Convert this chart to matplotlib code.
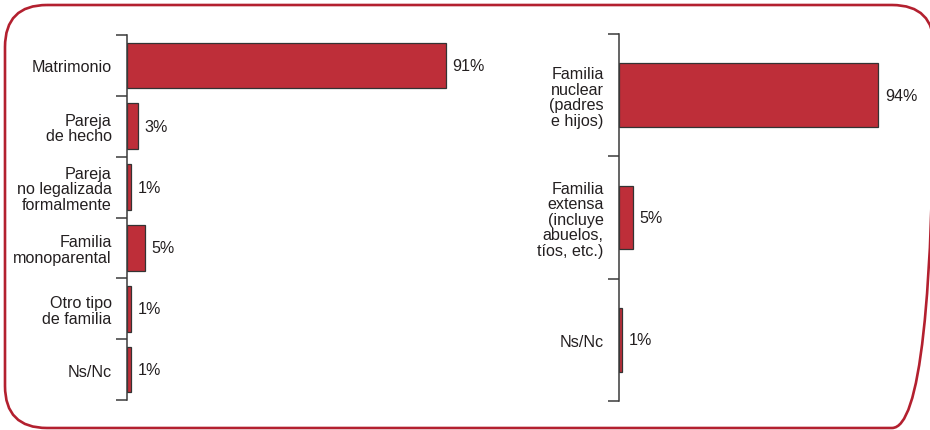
import matplotlib.pyplot as plt
from matplotlib.patches import FancyBboxPatch

# left panel: tipo de union
left_labels = ["Matrimonio", "Pareja\nde hecho", "Pareja\nno legalizada\nformalmente",
               "Familia\nmonoparental", "Otro tipo\nde familia", "Ns/Nc"]
left_values = [91, 3, 1, 5, 1, 1]

# right panel: tipo de familia
right_labels = ["Familia\nnuclear\n(padres\ne hijos)", "Familia\nextensa\n(incluye\nabuelos,\ntíos, etc.)",
                "Ns/Nc"]
right_values = [94, 5, 1]

BAR_COLOR = "#be2e39"
FRAME_COLOR = "#b3202f"
TEXT_COLOR = "#231f20"
AXIS_COLOR = "#3a3a3a"

W, H = 930, 431
plt.rcParams["font.family"] = ["Liberation Sans", "DejaVu Sans"]

fig = plt.figure(figsize=(W / 100, H / 100), dpi=100)

# background axes in pixel units for the rounded frame
bg = fig.add_axes([0, 0, 1, 1])
bg.set_xlim(0, W)
bg.set_ylim(H, 0)
bg.axis("off")
bg.add_patch(FancyBboxPatch((5, 6), 929, 423, boxstyle="round,pad=0,rounding_size=42",
                            fill=False, edgecolor=FRAME_COLOR, linewidth=1.9,
                            clip_on=False))


def px_axes(x0, y0, x1, y1):
    return fig.add_axes([x0 / W, 1 - y1 / H, (x1 - x0) / W, (y1 - y0) / H])


def draw_panel(ax, labels, values, scale_max, bar_h):
    n = len(labels)
    pos = list(range(n))
    ax.barh(pos, values, height=bar_h, color=BAR_COLOR, edgecolor="#333333", linewidth=0.9)
    ax.set_ylim(n - 0.5, -0.5)
    ax.set_xlim(0, scale_max)
    for s in ["top", "right", "bottom"]:
        ax.spines[s].set_visible(False)
    ax.spines["left"].set_color(AXIS_COLOR)
    ax.spines["left"].set_linewidth(1.1)
    ax.set_xticks([])
    ax.set_yticks(pos)
    ax.set_yticklabels(labels, fontsize=11.6, color=TEXT_COLOR, ha="right",
                       linespacing=1.05)
    ax.tick_params(axis="y", which="major", length=0, pad=11)
    ax.set_yticks([p - 0.5 for p in range(n + 1)], minor=True)
    ax.tick_params(axis="y", which="minor", length=8, width=1.1, color=AXIS_COLOR)
    for p, v in zip(pos, values):
        ax.annotate(f"{v}%", (v, p), xytext=(5, 0), textcoords="offset points",
                    va="center", ha="left", fontsize=11.6, color=TEXT_COLOR)
    ax.patch.set_alpha(0)


ax1 = px_axes(127, 36, 127 + 350, 401)
draw_panel(ax1, left_labels, left_values, 100, 0.75)

ax2 = px_axes(619, 35, 619 + 276, 402)
draw_panel(ax2, right_labels, right_values, 100, 0.52)

fig.savefig("out.png", dpi=100)
